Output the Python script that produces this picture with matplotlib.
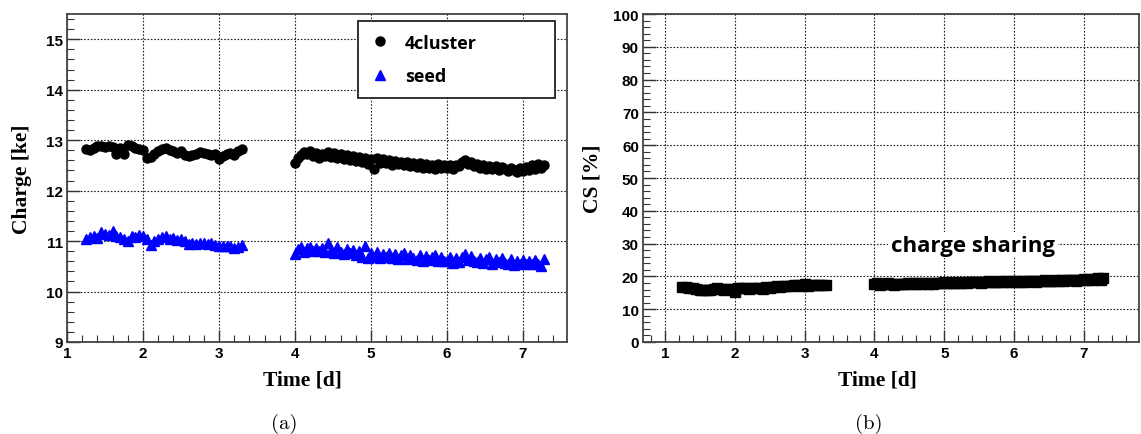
import matplotlib.pyplot as plt
from matplotlib.ticker import MultipleLocator

# time stamps [d]
t_run1 = [1.25, 1.30, 1.35, 1.40, 1.45, 1.50, 1.55, 1.60, 1.65, 1.70,
          1.75, 1.80, 1.85, 1.90, 1.95, 2.00, 2.05, 2.10, 2.15, 2.20,
          2.25, 2.30, 2.35, 2.40, 2.45, 2.50, 2.55, 2.60, 2.65, 2.70,
          2.75, 2.80, 2.85, 2.90, 2.95, 3.00, 3.05, 3.10, 3.15, 3.20,
          3.25, 3.30]
t_run2 = [4.00, 4.04, 4.08, 4.12, 4.16, 4.20, 4.24, 4.28, 4.32, 4.36,
          4.40, 4.44, 4.48, 4.52, 4.56, 4.60, 4.64, 4.68, 4.72, 4.76,
          4.80, 4.84, 4.88, 4.92, 4.96, 5.00, 5.04, 5.08, 5.12, 5.16,
          5.20, 5.24, 5.28, 5.32, 5.36, 5.40, 5.44, 5.48, 5.52, 5.56,
          5.60, 5.64, 5.68, 5.72, 5.76, 5.80, 5.84, 5.88, 5.92, 5.96,
          6.00, 6.04, 6.08, 6.12, 6.16, 6.20, 6.24, 6.28, 6.32, 6.36,
          6.40, 6.44, 6.48, 6.52, 6.56, 6.60, 6.64, 6.68, 6.72, 6.76,
          6.80, 6.84, 6.88, 6.92, 6.96, 7.00, 7.04, 7.08, 7.12, 7.16,
          7.20, 7.24, 7.28]

# 4cluster charge [ke]
cluster_run1 = [12.82, 12.80, 12.85, 12.88, 12.88, 12.87, 12.88, 12.87, 12.72, 12.85,
                12.72, 12.90, 12.88, 12.84, 12.83, 12.80, 12.65, 12.67, 12.72, 12.78,
                12.82, 12.85, 12.80, 12.78, 12.75, 12.78, 12.70, 12.68, 12.70, 12.72,
                12.76, 12.74, 12.72, 12.70, 12.73, 12.62, 12.68, 12.72, 12.75, 12.70,
                12.78, 12.82]
cluster_run2 = [12.55, 12.64, 12.70, 12.76, 12.72, 12.78, 12.68, 12.74, 12.65, 12.73,
                12.68, 12.76, 12.66, 12.74, 12.64, 12.72, 12.62, 12.70, 12.60, 12.68,
                12.58, 12.66, 12.56, 12.64, 12.52, 12.62, 12.42, 12.64, 12.54, 12.62,
                12.55, 12.60, 12.50, 12.58, 12.52, 12.57, 12.50, 12.56, 12.48, 12.55,
                12.47, 12.54, 12.45, 12.52, 12.44, 12.51, 12.43, 12.52, 12.45, 12.50,
                12.44, 12.50, 12.43, 12.51, 12.48, 12.56, 12.60, 12.52, 12.56, 12.48,
                12.52, 12.44, 12.50, 12.42, 12.48, 12.43, 12.49, 12.40, 12.46, 12.42,
                12.38, 12.45, 12.40, 12.36, 12.44, 12.38, 12.46, 12.40, 12.50, 12.42,
                12.52, 12.44, 12.50]

# seed charge [ke]
seed_run1 = [11.05, 11.08, 11.10, 11.07, 11.18, 11.15, 11.12, 11.20, 11.10, 11.08,
             11.05, 11.00, 11.10, 11.08, 11.12, 11.10, 11.05, 10.92, 11.00, 11.05,
             11.08, 11.10, 11.05, 11.07, 11.03, 11.05, 11.00, 10.95, 10.97, 10.95,
             10.97, 10.96, 10.95, 10.97, 10.92, 10.90, 10.90, 10.90, 10.90, 10.87,
             10.88, 10.93]
seed_run2 = [10.75, 10.84, 10.88, 10.79, 10.86, 10.89, 10.81, 10.87, 10.80, 10.86,
             10.78, 10.96, 10.82, 10.76, 10.88, 10.78, 10.74, 10.84, 10.76, 10.83,
             10.72, 10.81, 10.68, 10.91, 10.66, 10.76, 10.68, 10.78, 10.66, 10.75,
             10.68, 10.77, 10.66, 10.74, 10.65, 10.72, 10.76, 10.64, 10.73, 10.66,
             10.63, 10.72, 10.60, 10.70, 10.62, 10.68, 10.72, 10.60, 10.69, 10.61,
             10.60, 10.68, 10.56, 10.66, 10.58, 10.69, 10.74, 10.63, 10.70, 10.60,
             10.58, 10.66, 10.56, 10.64, 10.68, 10.55, 10.65, 10.58, 10.67, 10.56,
             10.55, 10.64, 10.53, 10.60, 10.54, 10.62, 10.54, 10.61, 10.55, 10.62,
             10.54, 10.50, 10.65]

# charge sharing [%]
cs_run1 = [16.8, 16.7, 16.5, 16.4, 16.2, 16.0, 15.9, 15.8, 15.9, 16.2,
           16.4, 16.3, 16.0, 16.2, 16.1, 15.3, 16.5, 16.6, 16.4, 16.2,
           16.5, 16.4, 16.6, 16.3, 16.8, 16.5, 16.9, 17.0, 16.8, 17.1,
           17.2, 17.0, 17.3, 17.4, 17.1, 17.6, 17.2, 17.4, 17.3, 17.5,
           17.4, 17.5]
cs_run2 = [17.6, 17.9, 17.5, 17.8, 17.6, 17.9, 17.7, 17.5, 17.8, 17.7,
           17.8, 17.6, 17.9, 17.7, 18.0, 17.8, 17.9, 17.7, 18.0, 17.8,
           18.0, 17.8, 18.1, 17.9, 18.0, 18.2, 17.9, 18.1, 18.0, 18.2,
           18.1, 18.0, 18.3, 18.1, 18.2, 18.4, 18.2, 18.3, 18.1, 18.4,
           18.3, 18.5, 18.2, 18.4, 18.3, 18.5, 18.4, 18.6, 18.3, 18.5,
           18.4, 18.6, 18.3, 18.5, 18.4, 18.7, 18.5, 18.6, 18.4, 18.7,
           18.6, 18.8, 18.5, 18.7, 18.6, 18.9, 18.7, 18.8, 18.6, 18.9,
           18.8, 19.0, 18.7, 18.9, 18.8, 19.1, 18.9, 19.2, 18.9, 19.1,
           19.4, 18.8, 19.6]

tick_font = {'family': 'Liberation Sans', 'weight': 'bold', 'size': 11}
label_font = {'family': 'Liberation Serif', 'weight': 'bold', 'size': 15.5}


def style_axes(ax, ymajor, yminor):
    ax.xaxis.set_major_locator(MultipleLocator(1))
    ax.xaxis.set_minor_locator(MultipleLocator(0.2))
    ax.yaxis.set_major_locator(MultipleLocator(ymajor))
    ax.yaxis.set_minor_locator(MultipleLocator(yminor))
    ax.tick_params(which='both', direction='in', top=False, right=False, color='#333333')
    ax.tick_params(which='major', length=9, width=1.0, pad=3)
    ax.tick_params(which='minor', length=5, width=0.8)
    for lab in ax.get_xticklabels() + ax.get_yticklabels():
        lab.set_fontproperties(tick_font)
    ax.grid(True, which='major', color='#222222', linestyle=(0, (1.5, 1.5)), linewidth=0.8)
    for sp in ax.spines.values():
        sp.set_linewidth(1.3)
        sp.set_color('#444444')
    ax.set_xlabel('Time [d]', fontdict=label_font)


fig = plt.figure(figsize=(11.41, 4.35), dpi=100)

# (a) charge vs time
ax1 = fig.add_axes([0.0587, 0.2115, 0.4382, 0.754])
ax1.plot(t_run1 + t_run2, cluster_run1 + cluster_run2, 'o', color='black',
         markersize=6.5, label='4cluster')
ax1.plot(t_run1 + t_run2, seed_run1 + seed_run2, '^', color='#0000ff',
         markersize=6.5, label='seed')
ax1.set_xlim(1, 7.58)
ax1.set_ylim(9, 15.5)
style_axes(ax1, 1, 0.2)
ax1.xaxis.set_label_coords(0.47, -0.085)
ax1.set_ylabel('Charge [ke]', fontdict=label_font, labelpad=10)
leg = ax1.legend(loc='upper left', bbox_to_anchor=(0.582, 0.75, 0.394, 0.229), mode='expand',
                 fancybox=False, framealpha=1, edgecolor='#222222', borderpad=0.7,
                 labelspacing=0.85, handlelength=1.0, handletextpad=0.9,
                 borderaxespad=0.0,
                 prop={'family': 'Open Sans', 'weight': 'bold', 'size': 13})
leg.get_frame().set_linewidth(1.3)
fig.text(0.249, 0.025, '(a)', fontfamily='cmr10', fontsize=15, ha='center', va='center')

# (b) charge sharing vs time
ax2 = fig.add_axes([0.5636, 0.2115, 0.4347, 0.754])
ax2.plot(t_run1 + t_run2, cs_run1 + cs_run2, 's', color='black', markersize=7.5)
ax2.set_xlim(0.686, 7.79)
ax2.set_ylim(0, 100)
style_axes(ax2, 10, 2)
ax2.xaxis.set_label_coords(0.472, -0.085)
ax2.set_ylabel('CS [%]', fontdict=label_font, labelpad=8)
ax2.text(5.41, 29.5, 'charge sharing', ha='center', va='center', fontsize=16,
         fontfamily='Open Sans', fontweight='bold',
         bbox=dict(facecolor='white', edgecolor='none', pad=2))
fig.text(0.761, 0.025, '(b)', fontfamily='cmr10', fontsize=15, ha='center', va='center')

plt.savefig('out.png', dpi=100)
